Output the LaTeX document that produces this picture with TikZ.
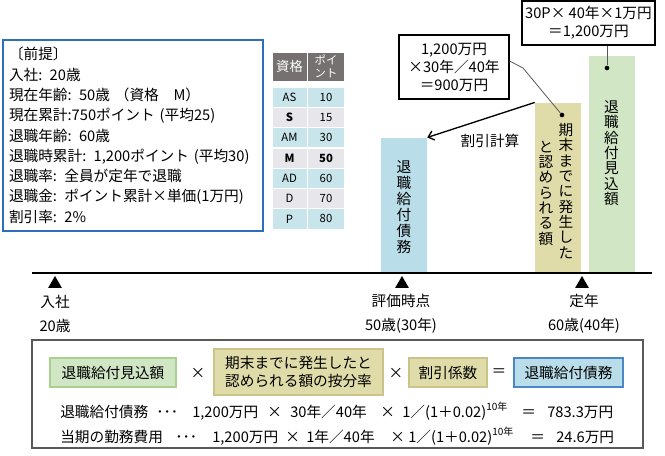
\documentclass[tikz,border=0pt]{standalone}
\usepackage{fontspec}
\setmainfont{Noto Sans CJK JP}
\usetikzlibrary{arrows.meta,shapes.geometric}

\definecolor{barblue}{HTML}{B9DDE9}
\definecolor{barkhaki}{HTML}{E0DCAA}
\definecolor{bargreen}{HTML}{D0E6C5}
\definecolor{premiseblue}{HTML}{2F6EBA}
\definecolor{blueedge}{HTML}{4A86C8}
\definecolor{khakiedge}{HTML}{CBC48A}
\definecolor{greenedge}{HTML}{A9D08E}
\definecolor{headgray}{HTML}{767171}
\definecolor{rowcyan}{HTML}{C8E5EC}
\definecolor{rowgray}{HTML}{E7E7EB}
\definecolor{framegray}{HTML}{595959}

\newcommand{\powten}{\raisebox{0.85ex}{\fontsize{7.5}{7.5}\selectfont 10年}}

\begin{document}
\begin{tikzpicture}[x=0.75pt,y=-0.75pt,
  every node/.style={font=\fontsize{11}{13.5}\selectfont, inner sep=0pt},
  bar/.style={anchor=south, minimum width=34.5pt, inner sep=0pt},
  vtext/.style={align=center, font=\fontsize{11}{11.5}\selectfont},
  cell/.style={draw=white, line width=0.6pt, minimum height=15.2pt, font=\fontsize{8.5}{9}\selectfont},
  tri/.style={regular polygon, regular polygon sides=3, fill=black, minimum size=12pt, inner sep=0pt},
  callout/.style={draw, fill=white, line width=0.8pt, align=center, font=\fontsize{11}{13.5}\selectfont},
  dot/.style={circle, fill=black, inner sep=0pt, minimum size=3.5pt},
  term/.style={draw, line width=0.8pt, align=center},
  when/.style={align=center, font=\fontsize{11}{18}\selectfont},
]
\useasboundingbox (0,0) rectangle (665,456);

% premise box
\node[draw=premiseblue, line width=1.5pt, anchor=north west, text width=186pt,
      minimum height=143pt, inner xsep=4.5pt, align=left,
      font=\fontsize{11}{15.2}\selectfont] (premise) at (2,39)
  {〔前提〕\\
   入社: 20歳\\
   現在年齢: 50歳 （資格　M）\\
   現在累計:750ポイント (平均25)\\
   退職年齢: 60歳\\
   退職時累計: 1,200ポイント (平均30)\\
   退職率: 全員が定年で退職\\
   退職金: ポイント累計×単価(1万円)\\
   割引率: 2\%};

% grade table
\node[cell, fill=headgray, text=white, minimum width=26.25pt, minimum height=21.75pt,
      font=\fontsize{10}{10}\selectfont] (grade) at (289.5,66.5) {資格};
\node[cell, fill=headgray, text=white, minimum width=27.75pt, minimum height=21.75pt,
      align=center, font=\fontsize{8.5}{9.5}\selectfont] (point) at (326,66.5) {ポイ\\ント};
\foreach \g/\p/\c [count=\i] in {AS/10/rowcyan, {\bfseries S}/15/rowgray,
    AM/30/rowcyan, {\bfseries M}/{\bfseries 50}/rowgray, AD/60/rowcyan,
    D/70/rowgray, P/80/rowcyan} {
  \node[cell, fill=\c, minimum width=26.25pt] (g-\i) at (289.5,{76.85+20.3*\i}) {\g};
  \node[cell, fill=\c, minimum width=27.75pt] (p-\i) at (326,{76.85+20.3*\i}) {\p};
}

% bars
\node[bar, fill=barblue, minimum height=101.25pt] (debt) at (404,273) {};
\node[bar, fill=barkhaki, minimum height=127.5pt] (earned) at (558,273) {};
\node[bar, fill=bargreen, minimum height=162.75pt] (projected) at (611.5,273) {};
\node[vtext, font=\fontsize{11}{12}\selectfont] (debt-txt) at (404,207) {退\\職\\給\\付\\債\\務};
\node[vtext] (earned-r) at (566,191) {期\\末\\ま\\で\\に\\発\\生\\し\\た};
\node[vtext] (earned-l) at (546,193) {と\\認\\め\\ら\\れ\\る\\額};
\node[vtext] (proj-txt) at (611.5,153) {退\\職\\給\\付\\見\\込\\額};

\draw[-{Straight Barb[length=4pt,width=7pt]}, line width=1pt] (earned.north west) -- (debt.north east);
\node (disc) at (490,141) {割引計算};

% callouts
\node[callout, minimum width=82.5pt, minimum height=48pt] (calc900) at (454,67)
  {1,200万円\\×30年／40年\\＝900万円};
\node[callout, minimum width=99.75pt, minimum height=33pt] (calc1200) at (588.5,23)
  {30P× 40年×1万円\\＝1,200万円};
\node[dot] (d900) at (562,115) {};
\node[dot] (d1200) at (607,68) {};
\draw[framegray, line width=0.6pt] (calc900.east) ++(0,-6) -- (523,68) -- (d900);
\draw[framegray, line width=0.6pt] (calc1200.south -| d1200) -- (d1200);

% time line
\coordinate (tl-start) at (32,273);
\coordinate (tl-end) at (652,273);
\draw[line width=1.5pt] (tl-start) -- (tl-end);
\node[tri] (t-join) at (55,284) {};
\node[tri] (t-eval) at (402,284) {};
\node[tri] (t-retire) at (582,284) {};
\node[when] (l-join) at (55,314) {入社\\20歳};
\node[when] (l-eval) at (401,314) {評価時点\\50歳(30年)};
\node[when] (l-retire) at (584,314) {定年\\60歳(40年)};

% formula panel
\draw[framegray, line width=1.2pt] (32,340) rectangle (643,448);
\node[term, fill=bargreen, draw=greenedge, minimum width=94.5pt, minimum height=21.75pt] (f-proj) at (113,372.5) {退職給付見込額};
\node (f-x1) at (198,373) {×};
\node[term, fill=barkhaki, draw=khakiedge, minimum width=126.75pt, minimum height=34.5pt,
      font=\fontsize{11}{13.5}\selectfont] (f-ratio) at (298.5,372) {期末までに発生したと\\認められる額の按分率};
\node (f-x2) at (396,373) {×};
\node[term, fill=barkhaki, draw=khakiedge, minimum width=58.5pt, minimum height=21.75pt] (f-disc) at (448,372.5) {割引係数};
\node (f-eq) at (499,373) {＝};
\node[term, fill=barblue, draw=blueedge, minimum width=81.75pt, minimum height=21.75pt] (f-debt) at (568.5,372.5) {退職給付債務};

\foreach \x/\t [count=\i] in {60/退職給付債務, 156/･･･, 192/{1,200万円}, 267/×,
    290/30年／40年, 380/×, 402/1／(1＋0.02)\powten, 521/＝, 547/783.3万円}
  \node[anchor=base west] (dbo-\i) at (\x,417) {\t};
\foreach \x/\t [count=\i] in {60/当期の勤務費用, 175/･･･, 212/{1,200万円}, 285/×,
    306/1年／40年, 390/×, 408/1／(1＋0.02)\powten, 530/＝, 556/24.6万円}
  \node[anchor=base west] (sc-\i) at (\x,442) {\t};
\end{tikzpicture}
\end{document}
